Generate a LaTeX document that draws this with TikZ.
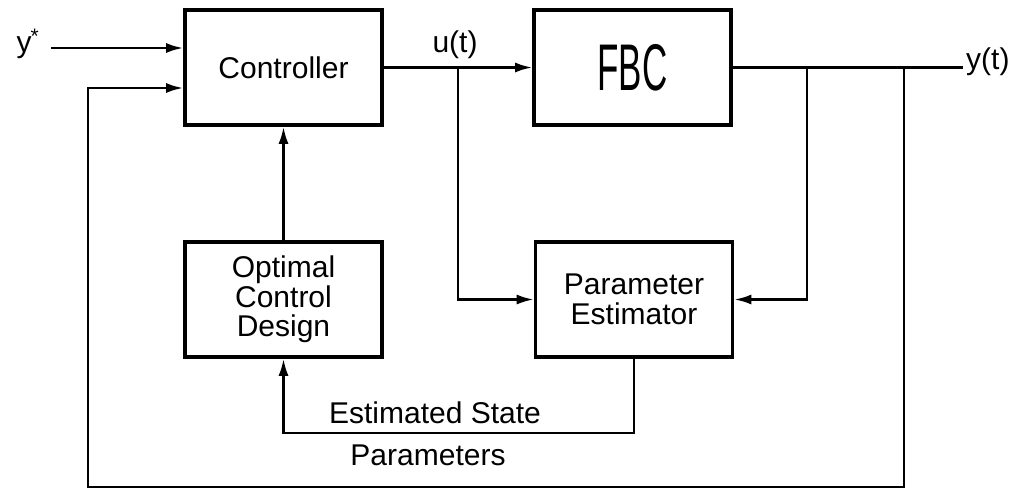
\documentclass[tikz,border=0pt]{standalone}
\usepackage{fontspec}
\setmainfont{Liberation Sans}
\usetikzlibrary{arrows.meta}
\begin{document}
\begin{tikzpicture}[x=1pt,y=-1pt,
  blockbox/.style={draw,line width=3.6pt,minimum width=197pt,minimum height=115pt,inner sep=0pt,align=center,
    font=\fontsize{30}{29.5}\selectfont},
  conn/.style={line width=2.5pt},
  arr/.style={conn,-{Latex[length=17pt,width=10pt]}},
  lbl/.style={inner sep=0pt,font=\fontsize{30}{30}\selectfont}]
\useasboundingbox (0,0) rectangle (1016,490);
% blocks
\node[blockbox] (ctrl) at (283.5,67.5) {Controller};
\node[blockbox] (fbc) at (632.5,67.5) {\fontsize{66}{66}\selectfont\scalebox{0.53}[1]{FBC}};
\node[blockbox] (ocd) at (283.5,299.5) {Optimal\\Control\\Design};
\node[blockbox] (pe) at (634,299.5) {Parameter\\Estimator};
% coordinates
\coordinate (ys) at (51,48);
\coordinate (ub) at (458,67.5);
\coordinate (b1) at (807,67.5);
\coordinate (b2) at (904,67.5);
\coordinate (yout) at (963,67.5);
\coordinate (fbc1) at (88,487);
\coordinate (est) at (634,433);
% labels
\node[lbl] (ysl) at (28,44) {y\textsuperscript{\kern-1pt*}};
\node[lbl] (ul) at (455,45) {u(t)};
\node[lbl,anchor=west] (yl) at (966,62) {y(t)};
\node[lbl] (esl) at (435,413) {Estimated State};
\node[lbl] (pal) at (428,455) {Parameters};
% connectors
\draw[arr] (ys) -- (ys -| ctrl.west);
\draw[arr] (ctrl.east) -- (fbc.west);
\draw[conn] (fbc.east) -- (yout);
\draw[arr] (ub) |- (pe.west);
\draw[arr] (b1) |- (pe.east);
\draw[arr] (b2) |- (fbc1) |- ([yshift=-20.5pt]ctrl.west);
\draw[arr] (ocd.north) -- (ctrl.south);
\draw[arr] (pe.south) -- (est) -| (ocd.south);
\end{tikzpicture}
\end{document}
